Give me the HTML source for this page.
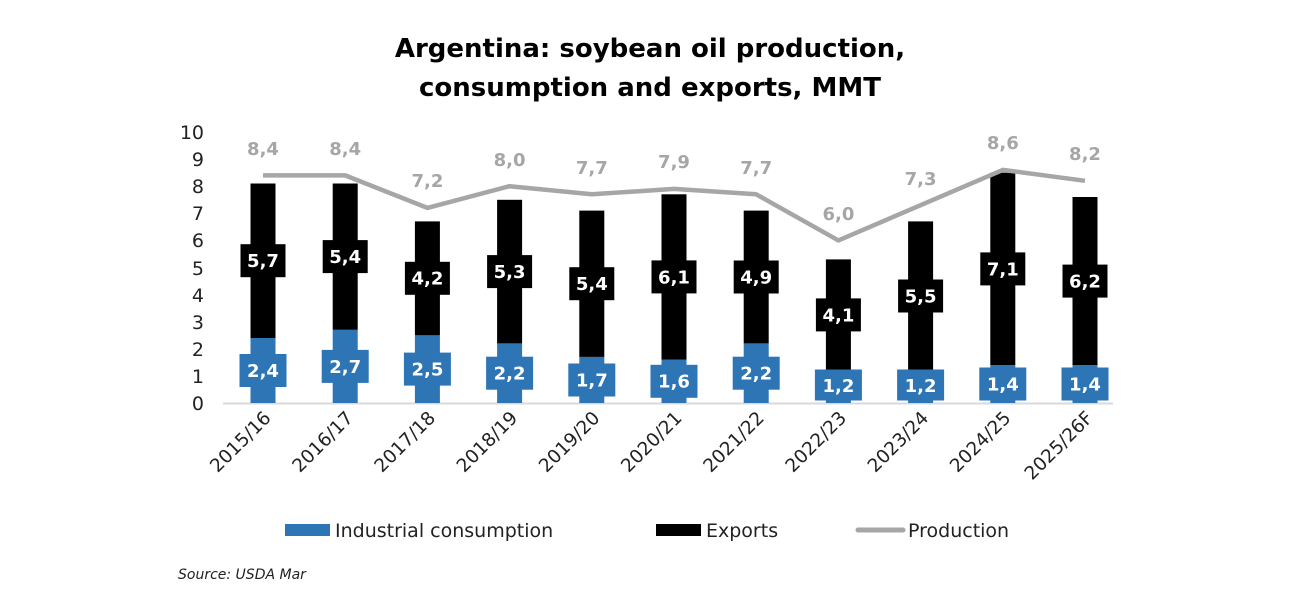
<!DOCTYPE html>
<html><head><meta charset="utf-8"><style>
html,body{margin:0;padding:0;background:#fff;}
svg{display:block;font-family:"DejaVu Sans","Liberation Sans",sans-serif;}
.yt{font-size:19px;fill:#222;text-anchor:end;}
.xt{font-size:18.5px;fill:#222;text-anchor:end;}
.bl{font-size:18px;font-weight:bold;fill:#fff;text-anchor:middle;}
.pl{font-size:18px;font-weight:bold;fill:#a6a6a6;text-anchor:middle;}
</style></head><body>
<svg width="1299" height="603" viewBox="0 0 1299 603">
<text x="650" y="57" font-size="26" font-weight="bold" text-anchor="middle" fill="#000">Argentina: soybean oil production,</text>
<text x="650" y="96" font-size="26" font-weight="bold" text-anchor="middle" fill="#000">consumption and exports, MMT</text>
<g class="yt">
<text x="204" y="410">0</text><text x="204" y="383">1</text><text x="204" y="356">2</text><text x="204" y="329">3</text><text x="204" y="302">4</text><text x="204" y="275">5</text><text x="204" y="247">6</text><text x="204" y="220">7</text><text x="204" y="193">8</text><text x="204" y="166">9</text><text x="204" y="139">10</text>
</g>
<line x1="223" y1="403.5" x2="1113" y2="403.5" stroke="#d9d9d9" stroke-width="2"/>
<g id="bars">
<rect x="250.5" y="338" width="25" height="65" fill="#2e75b6"/><rect x="250.5" y="183.5" width="25" height="154.5" fill="#000"/>
<rect x="332.7" y="329.8" width="25" height="73.2" fill="#2e75b6"/><rect x="332.7" y="183.5" width="25" height="146.3" fill="#000"/>
<rect x="414.9" y="335.3" width="25" height="67.7" fill="#2e75b6"/><rect x="414.9" y="221.4" width="25" height="113.9" fill="#000"/>
<rect x="497.1" y="343.4" width="25" height="59.6" fill="#2e75b6"/><rect x="497.1" y="199.8" width="25" height="143.6" fill="#000"/>
<rect x="579.3" y="356.9" width="25" height="46.1" fill="#2e75b6"/><rect x="579.3" y="210.6" width="25" height="146.3" fill="#000"/>
<rect x="661.5" y="359.6" width="25" height="43.4" fill="#2e75b6"/><rect x="661.5" y="194.3" width="25" height="165.3" fill="#000"/>
<rect x="743.7" y="343.4" width="25" height="59.6" fill="#2e75b6"/><rect x="743.7" y="210.6" width="25" height="132.8" fill="#000"/>
<rect x="825.9" y="370.5" width="25" height="32.5" fill="#2e75b6"/><rect x="825.9" y="259.4" width="25" height="111.1" fill="#000"/>
<rect x="908.1" y="370.5" width="25" height="32.5" fill="#2e75b6"/><rect x="908.1" y="221.4" width="25" height="149.1" fill="#000"/>
<rect x="990.3" y="365.1" width="25" height="37.9" fill="#2e75b6"/><rect x="990.3" y="172.7" width="25" height="192.4" fill="#000"/>
<rect x="1072.5" y="365.1" width="25" height="37.9" fill="#2e75b6"/><rect x="1072.5" y="197" width="25" height="168.1" fill="#000"/>
</g>
<g>
<rect x="239.5" y="354" width="47" height="33" fill="#2e75b6"/><text class="bl" x="263" y="377">2,4</text>
<rect x="321.7" y="349.9" width="47" height="33" fill="#2e75b6"/><text class="bl" x="345.2" y="373">2,7</text>
<rect x="403.9" y="352.6" width="47" height="33" fill="#2e75b6"/><text class="bl" x="427.4" y="375.5">2,5</text>
<rect x="486.1" y="356.7" width="47" height="33" fill="#2e75b6"/><text class="bl" x="509.6" y="379.5">2,2</text>
<rect x="568.3" y="363.5" width="47" height="33" fill="#2e75b6"/><text class="bl" x="591.8" y="386.5">1,7</text>
<rect x="650.5" y="364.8" width="47" height="33" fill="#2e75b6"/><text class="bl" x="674" y="387.7">1,6</text>
<rect x="732.7" y="356.7" width="47" height="33" fill="#2e75b6"/><text class="bl" x="756.2" y="379.5">2,2</text>
<rect x="814.9" y="369.5" width="47" height="31" fill="#2e75b6"/><text class="bl" x="838.4" y="392">1,2</text>
<rect x="897.1" y="369.5" width="47" height="31" fill="#2e75b6"/><text class="bl" x="920.6" y="392">1,2</text>
<rect x="979.3" y="367.5" width="47" height="33" fill="#2e75b6"/><text class="bl" x="1002.8" y="390.5">1,4</text>
<rect x="1061.5" y="367.5" width="47" height="33" fill="#2e75b6"/><text class="bl" x="1085" y="390.5">1,4</text>
</g>
<g>
<rect x="240.5" y="244.2" width="45" height="33" fill="#000"/><text class="bl" x="263" y="267">5,7</text>
<rect x="322.7" y="240.1" width="45" height="33" fill="#000"/><text class="bl" x="345.2" y="263">5,4</text>
<rect x="404.9" y="261.8" width="45" height="33" fill="#000"/><text class="bl" x="427.4" y="284.7">4,2</text>
<rect x="487.1" y="255.1" width="45" height="33" fill="#000"/><text class="bl" x="509.6" y="278">5,3</text>
<rect x="569.3" y="267.2" width="45" height="33" fill="#000"/><text class="bl" x="591.8" y="290">5,4</text>
<rect x="651.5" y="260.4" width="45" height="33" fill="#000"/><text class="bl" x="674" y="283.3">6,1</text>
<rect x="733.7" y="260.5" width="45" height="33" fill="#000"/><text class="bl" x="756.2" y="283.4">4,9</text>
<rect x="815.9" y="298.4" width="45" height="33" fill="#000"/><text class="bl" x="838.4" y="321.3">4,1</text>
<rect x="898.1" y="279.5" width="45" height="33" fill="#000"/><text class="bl" x="920.6" y="302.4">5,5</text>
<rect x="980.3" y="252.4" width="45" height="33" fill="#000"/><text class="bl" x="1002.8" y="275.3">7,1</text>
<rect x="1062.5" y="264.6" width="45" height="33" fill="#000"/><text class="bl" x="1085" y="287.5">6,2</text>
</g>
<polyline points="263,175.4 345.2,175.4 427.4,207.9 509.6,186.2 591.8,194.3 674,188.9 756.2,194.3 838.4,240.4 920.6,205.2 1002.8,169.9 1085,180.8" fill="none" stroke="#a6a6a6" stroke-width="4.5" stroke-linejoin="round"/>
<g>
<text class="pl" x="263" y="155">8,4</text><text class="pl" x="345.2" y="155">8,4</text><text class="pl" x="427.4" y="187">7,2</text><text class="pl" x="509.6" y="166">8,0</text><text class="pl" x="591.8" y="174">7,7</text><text class="pl" x="674" y="168">7,9</text><text class="pl" x="756.2" y="174">7,7</text><text class="pl" x="838.4" y="220">6,0</text><text class="pl" x="920.6" y="185">7,3</text><text class="pl" x="1002.8" y="149">8,6</text><text class="pl" x="1085" y="160">8,2</text>
</g>
<g class="xt">
<text transform="translate(272,419) rotate(-45)">2015/16</text>
<text transform="translate(354.2,419) rotate(-45)">2016/17</text>
<text transform="translate(436.4,419) rotate(-45)">2017/18</text>
<text transform="translate(518.6,419) rotate(-45)">2018/19</text>
<text transform="translate(600.8,419) rotate(-45)">2019/20</text>
<text transform="translate(683,419) rotate(-45)">2020/21</text>
<text transform="translate(765.2,419) rotate(-45)">2021/22</text>
<text transform="translate(847.4,419) rotate(-45)">2022/23</text>
<text transform="translate(929.6,419) rotate(-45)">2023/24</text>
<text transform="translate(1011.8,419) rotate(-45)">2024/25</text>
<text transform="translate(1094,419) rotate(-45)">2025/26F</text>
</g>
<rect x="285" y="524" width="45" height="12" fill="#2e75b6"/>
<text x="335" y="537" font-size="19" fill="#222">Industrial consumption</text>
<rect x="656" y="524" width="45" height="12" fill="#000"/>
<text x="706" y="537" font-size="19" fill="#222">Exports</text>
<line x1="858" y1="530" x2="903" y2="530" stroke="#a6a6a6" stroke-width="5" stroke-linecap="round"/>
<text x="908" y="537" font-size="19" fill="#222">Production</text>
<text x="178" y="579" font-size="14" font-style="italic" fill="#222">Source: USDA Mar</text>
</svg>
</body></html>
